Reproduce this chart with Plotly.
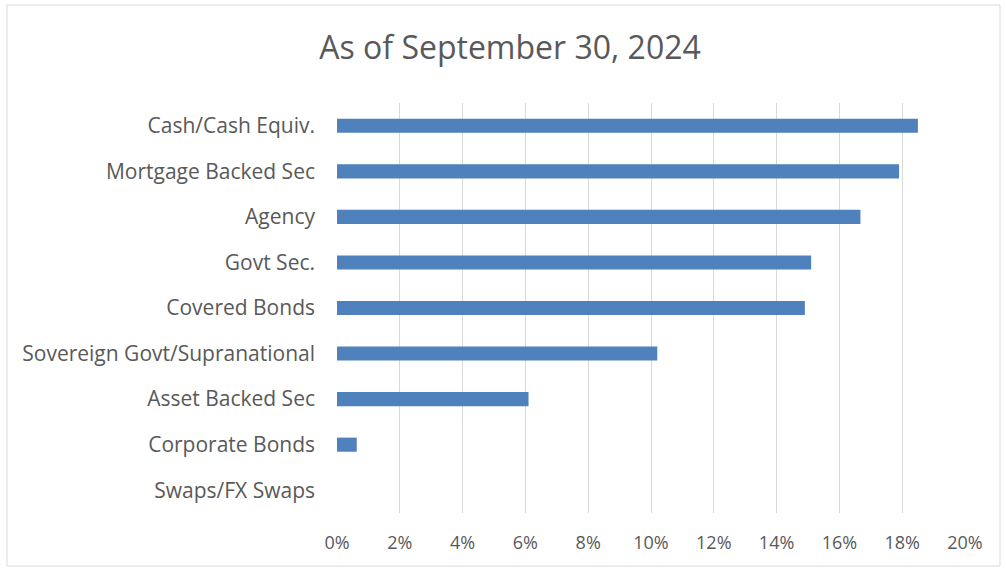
import plotly.graph_objects as go

categories = [
    "Cash/Cash Equiv.",
    "Mortgage Backed Sec",
    "Agency",
    "Govt Sec.",
    "Covered Bonds",
    "Sovereign Govt/Supranational",
    "Asset Backed Sec",
    "Corporate Bonds",
    "Swaps/FX Swaps",
]
weights = [0.185, 0.179, 0.1667, 0.151, 0.149, 0.102, 0.061, 0.0063, 0.0]
tick_vals = [i / 100 for i in range(0, 21, 2)]
tick_text = [f"{i}%" for i in range(0, 21, 2)]
title_text = "As of September 30, 2024"

W, H = 1006, 571
L, R, T, B = 337, 41, 103, 58
pw, ph = W - L - R, H - T - B

def px_x(x):
    return (x - L) / pw

def px_y(y):
    return (H - B - y) / ph

fig = go.Figure(
    go.Bar(
        x=weights,
        y=categories,
        orientation="h",
        width=0.31,
        marker=dict(color="#4f81bd", line=dict(width=0)),
        hoverinfo="x+y",
    )
)

fig.update_layout(
    width=W,
    height=H,
    margin=dict(l=L, r=R, t=T, b=B),
    paper_bgcolor="white",
    plot_bgcolor="white",
    font=dict(family="Open Sans, sans-serif", color="#595959"),
    showlegend=False,
    title=dict(
        text=title_text,
        x=0.507,
        xanchor="center",
        y=1 - 48 / H,
        yanchor="middle",
        font=dict(size=32, color="#595959"),
    ),
    xaxis=dict(
        range=[0, 0.2],
        tickvals=tick_vals,
        ticktext=tick_text,
        showgrid=True,
        gridcolor="#d9d9d9",
        gridwidth=1,
        zeroline=False,
        showline=False,
        ticks="",
        tickfont=dict(size=18, color="#595959"),
        ticklabelstandoff=17,
    ),
    yaxis=dict(
        categoryorder="array",
        categoryarray=categories[::-1],
        showgrid=False,
        zeroline=False,
        showline=False,
        ticks="",
        tickfont=dict(size=21, color="#595959"),
        ticklabelstandoff=21,
    ),
    shapes=[
        dict(
            type="rect",
            xref="paper",
            yref="paper",
            x0=px_x(7),
            x1=px_x(1000),
            y0=px_y(566),
            y1=px_y(5),
            line=dict(color="#d9d9d9", width=1),
            fillcolor="rgba(0,0,0,0)",
            layer="below",
        )
    ],
)

fig.write_html("out.html")
